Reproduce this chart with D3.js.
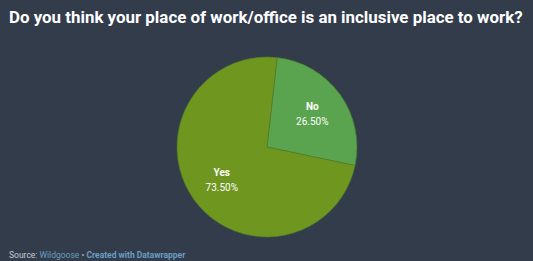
<!DOCTYPE html>
<html>
<head>
<meta charset="utf-8">
<script src="https://cdn.jsdelivr.net/npm/d3@7"></script>
<style>
  body { margin: 0; background: #323c4b; }
  svg { display: block; font-family: Roboto, "Noto Sans", sans-serif; }
</style>
</head>
<body>
<svg id="chart"></svg>
<script>
const answers = ["No", "Yes"];
const shares = [26.5, 73.5];
const colors = ["#5aa44f", "#6f961f"];

const width = 533, height = 261;
const svg = d3.select("#chart").attr("width", width).attr("height", height);

svg.append("rect").attr("width", width).attr("height", height).attr("fill", "#323c4b");

svg.append("text")
  .attr("x", 9).attr("y", 23)
  .attr("fill", "#ffffff")
  .attr("font-size", 16.9)
  .attr("font-weight", "bold")
  .text("Do you think your place of work/office is an inclusive place to work?");

const cx = 267, cy = 147, r = 90;
const startAng = 6.5 * Math.PI / 180;

const pie = d3.pie()
  .sort(null)
  .value(d => d.v)
  .startAngle(startAng)
  .endAngle(startAng + 2 * Math.PI);

const data = answers.map((a, i) => ({ name: a, v: shares[i], color: colors[i] }));
const arcs = pie(data);

const arc = d3.arc().innerRadius(0).outerRadius(r);
const labelArc = d3.arc().innerRadius(r * 0.62).outerRadius(r * 0.62);

const g = svg.append("g").attr("transform", `translate(${cx},${cy})`);

g.selectAll("path")
  .data(arcs)
  .join("path")
  .attr("d", arc)
  .attr("fill", d => d.data.color)
  .attr("stroke", "#4e7a2a")
  .attr("stroke-width", 0.6);

const labels = g.selectAll("g.lbl")
  .data(arcs)
  .join("g")
  .attr("class", "lbl")
  .attr("transform", d => `translate(${labelArc.centroid(d)})`);

labels.append("text")
  .attr("text-anchor", "middle")
  .attr("y", -4)
  .attr("fill", "#ffffff")
  .attr("font-size", 10)
  .attr("font-weight", "bold")
  .text(d => d.data.name);

labels.append("text")
  .attr("text-anchor", "middle")
  .attr("y", 11)
  .attr("fill", "#ffffff")
  .attr("font-size", 10)
  .text(d => d3.format(".2f")(d.data.v) + "%");

const foot = svg.append("text")
  .attr("x", 9).attr("y", 258)
  .attr("font-size", 8.5);
foot.append("tspan").attr("fill", "#c8ccd2").text("Source: ");
foot.append("tspan").attr("fill", "#6a9ec2").text("Wildgoose");
foot.append("tspan").attr("fill", "#aab2bd").text(" • ");
foot.append("tspan").attr("fill", "#6a9ec2").attr("font-weight", "bold").text("Created with Datawrapper");
</script>
</body>
</html>
